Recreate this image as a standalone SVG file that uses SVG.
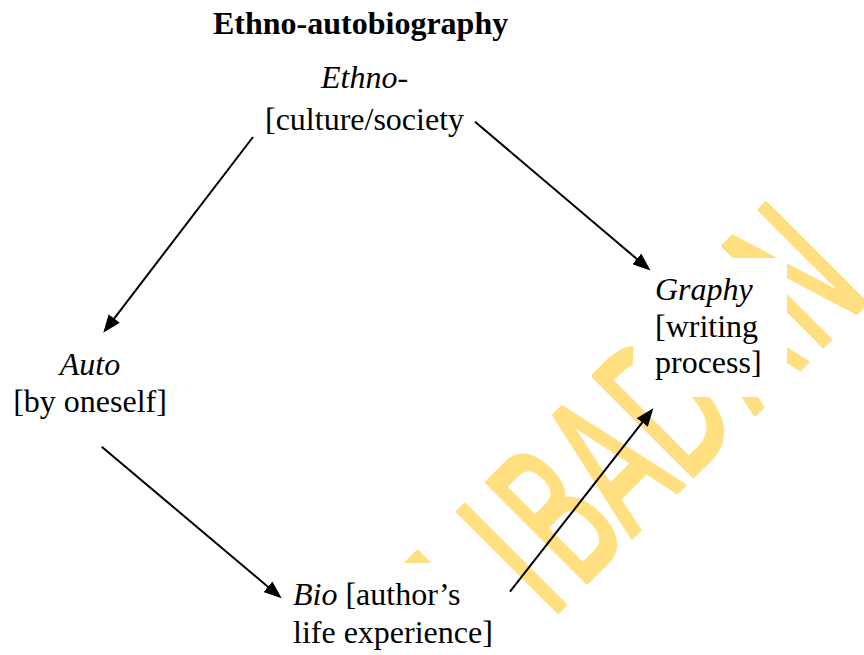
<svg xmlns="http://www.w3.org/2000/svg" width="864" height="655" viewBox="0 0 864 655">
<defs>
<style>
.t{font-family:"Liberation Serif","Times New Roman",serif;font-size:32px;fill:#000}
.i{font-style:italic}
.b{font-weight:bold}
.box{fill:#fff}
.conn line{stroke:#000;stroke-width:2;fill:none;marker-end:url(#ah)}
.wm{font-family:"DejaVu Sans",sans-serif;font-size:194px;fill:#FFDF80;stroke:#FFDF80;stroke-width:4;stroke-linejoin:round}
</style>
<marker id="ah" markerUnits="userSpaceOnUse" viewBox="0 0 18 14" markerWidth="18" markerHeight="14" refX="15" refY="7" orient="auto"><path d="M0,0 L18,7 L0,14 Z" fill="#000"/></marker>
</defs>
<rect width="864" height="655" fill="#fff"/>
<g id="watermark" transform="rotate(-45) scale(0.58,1)">
<text class="wm" x="-207 -57 52 179 319 479 634" y="827" text-anchor="middle">FIBADAN</text>
</g>
<g id="title">
<text class="t b" x="213" y="34">Ethno-autobiography</text>
</g>
<g id="ethno">
<text class="t i" x="321" y="88">Ethno-</text>
<text class="t" x="265" y="130">[culture/society</text>
</g>
<g id="auto">
<text class="t i" x="90" y="375" text-anchor="middle">Auto</text>
<text class="t" x="90" y="412" text-anchor="middle">[by oneself]</text>
</g>
<g id="graphy">
<rect class="box" x="633" y="258" width="154" height="139"/>
<text class="t i" x="655" y="300">Graphy</text>
<text class="t" x="655" y="337">[writing</text>
<text class="t" x="655" y="373">process]</text>
</g>
<g id="bio">
<rect class="box" x="280" y="563" width="220" height="92"/>
<text class="t" x="293" y="605"><tspan class="i">Bio</tspan> [author’s</text>
<text class="t" x="293" y="643">life experience]</text>
</g>
<g id="connectors" class="conn">
<line x1="253" y1="137" x2="105.1" y2="330.3"/>
<line x1="475" y1="121.7" x2="648.2" y2="268.6"/>
<line x1="101.7" y1="446.7" x2="279.4" y2="596.4"/>
<line x1="510" y1="591.7" x2="651.5" y2="410.7"/>
</g>
</svg>
